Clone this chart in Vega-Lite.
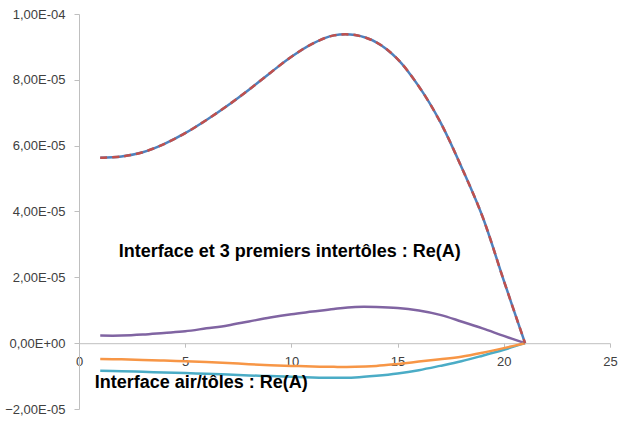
{
"$schema": "https://vega.github.io/schema/vega-lite/v6.json",
"width": 531, "height": 395,
"autosize": {"type": "none"},
"padding": {"left": 79, "top": 14, "right": 14, "bottom": 12},
"background": "white",
"config": {"view": {"stroke": null}, "font": "Liberation Sans"},
"datasets": {
"curves": [
{"x":1,"s1":5.63e-5,"s2":5.63e-5,"s3":0.23e-5,"s4":-0.84e-5,"s5":-0.48e-5},
{"x":2,"s1":5.67e-5,"s2":5.67e-5,"s3":0.23e-5,"s4":-0.85e-5,"s5":-0.49e-5},
{"x":3,"s1":5.80e-5,"s2":5.80e-5,"s3":0.26e-5,"s4":-0.87e-5,"s5":-0.51e-5},
{"x":4,"s1":6.05e-5,"s2":6.05e-5,"s3":0.31e-5,"s4":-0.89e-5,"s5":-0.53e-5},
{"x":5,"s1":6.38e-5,"s2":6.38e-5,"s3":0.36e-5,"s4":-0.91e-5,"s5":-0.55e-5},
{"x":6,"s1":6.78e-5,"s2":6.78e-5,"s3":0.45e-5,"s4":-0.93e-5,"s5":-0.57e-5},
{"x":7,"s1":7.22e-5,"s2":7.22e-5,"s3":0.54e-5,"s4":-0.95e-5,"s5":-0.60e-5},
{"x":8,"s1":7.70e-5,"s2":7.70e-5,"s3":0.66e-5,"s4":-0.98e-5,"s5":-0.64e-5},
{"x":9,"s1":8.21e-5,"s2":8.21e-5,"s3":0.78e-5,"s4":-1.00e-5,"s5":-0.67e-5},
{"x":10,"s1":8.70e-5,"s2":8.70e-5,"s3":0.88e-5,"s4":-1.02e-5,"s5":-0.69e-5},
{"x":11,"s1":9.10e-5,"s2":9.10e-5,"s3":0.96e-5,"s4":-1.04e-5,"s5":-0.71e-5},
{"x":12,"s1":9.35e-5,"s2":9.35e-5,"s3":1.04e-5,"s4":-1.05e-5,"s5":-0.72e-5},
{"x":13,"s1":9.36e-5,"s2":9.36e-5,"s3":1.10e-5,"s4":-1.04e-5,"s5":-0.72e-5},
{"x":14,"s1":9.14e-5,"s2":9.14e-5,"s3":1.10e-5,"s4":-0.99e-5,"s5":-0.69e-5},
{"x":15,"s1":8.63e-5,"s2":8.63e-5,"s3":1.07e-5,"s4":-0.92e-5,"s5":-0.63e-5},
{"x":16,"s1":7.80e-5,"s2":7.80e-5,"s3":0.99e-5,"s4":-0.82e-5,"s5":-0.56e-5},
{"x":17,"s1":6.73e-5,"s2":6.73e-5,"s3":0.86e-5,"s4":-0.69e-5,"s5":-0.49e-5},
{"x":18,"s1":5.36e-5,"s2":5.36e-5,"s3":0.66e-5,"s4":-0.55e-5,"s5":-0.41e-5},
{"x":19,"s1":3.84e-5,"s2":3.84e-5,"s3":0.45e-5,"s4":-0.38e-5,"s5":-0.29e-5},
{"x":20,"s1":1.90e-5,"s2":1.90e-5,"s3":0.22e-5,"s4":-0.20e-5,"s5":-0.15e-5},
{"x":21,"s1":0,"s2":0,"s3":0,"s4":0,"s5":0}
],
"notes": [
{"x":1.87,"value":2.78e-5,"label":"Interface et 3 premiers  intertôles : Re(A)"},
{"x":0.74,"value":-1.22e-5,"label":"Interface air/tôles  : Re(A)"}
]
},
"encoding": {
"x": {"field": "x", "type": "quantitative",
 "scale": {"domain": [0, 25], "nice": false, "zero": false},
 "axis": {"values": [0,5,10,15,20,25], "offset": -65.8, "grid": false, "domainColor": "#BFBFBF", "tickColor": "#BFBFBF", "tickSize": 4, "labelPadding": 8, "labelFontSize": 13, "labelColor": "#404040", "labelFlush": false, "labelOverlap": false, "title": null}},
"y": {"field": "value", "type": "quantitative",
 "scale": {"domain": [-2e-5, 1e-4], "nice": false, "zero": false},
 "axis": {"values": [-2e-5,0,2e-5,4e-5,6e-5,8e-5,1e-4], "labelExpr": "replace(replace(replace(format(datum.value,'.2e'),'.',','),'e-','E-0'),'e+','E+0')", "grid": false, "domainColor": "#BFBFBF", "tickColor": "#BFBFBF", "tickSize": 5, "labelPadding": 9, "labelFontSize": 13, "labelColor": "#404040", "labelOverlap": false, "title": null}}
},
"layer": [
{"data": {"name": "curves"}, "transform": [{"fold": ["s3"], "as": ["series","value"]}],
 "mark": {"type": "line", "color": "#8064A2", "strokeWidth": 2.5, "interpolate": "catmull-rom"}},
{"data": {"name": "curves"}, "transform": [{"fold": ["s4"], "as": ["series","value"]}],
 "mark": {"type": "line", "color": "#4BACC6", "strokeWidth": 2.5, "interpolate": "catmull-rom"}},
{"data": {"name": "curves"}, "transform": [{"fold": ["s5"], "as": ["series","value"]}],
 "mark": {"type": "line", "color": "#F79646", "strokeWidth": 2.5, "interpolate": "catmull-rom"}},
{"data": {"name": "curves"}, "transform": [{"fold": ["s1"], "as": ["series","value"]}],
 "mark": {"type": "line", "color": "#4F81BD", "strokeWidth": 2.5, "interpolate": "catmull-rom"}},
{"data": {"name": "curves"}, "transform": [{"fold": ["s2"], "as": ["series","value"]}],
 "mark": {"type": "line", "color": "#C0504D", "strokeWidth": 2.5, "strokeDash": [7, 5], "interpolate": "catmull-rom"}},
{"data": {"name": "notes"},
 "mark": {"type": "text", "align": "left", "baseline": "middle", "fontWeight": "bold", "fontSize": 18, "font": "Liberation Sans", "color": "black"},
 "encoding": {"text": {"field": "label"}}}
]
}
